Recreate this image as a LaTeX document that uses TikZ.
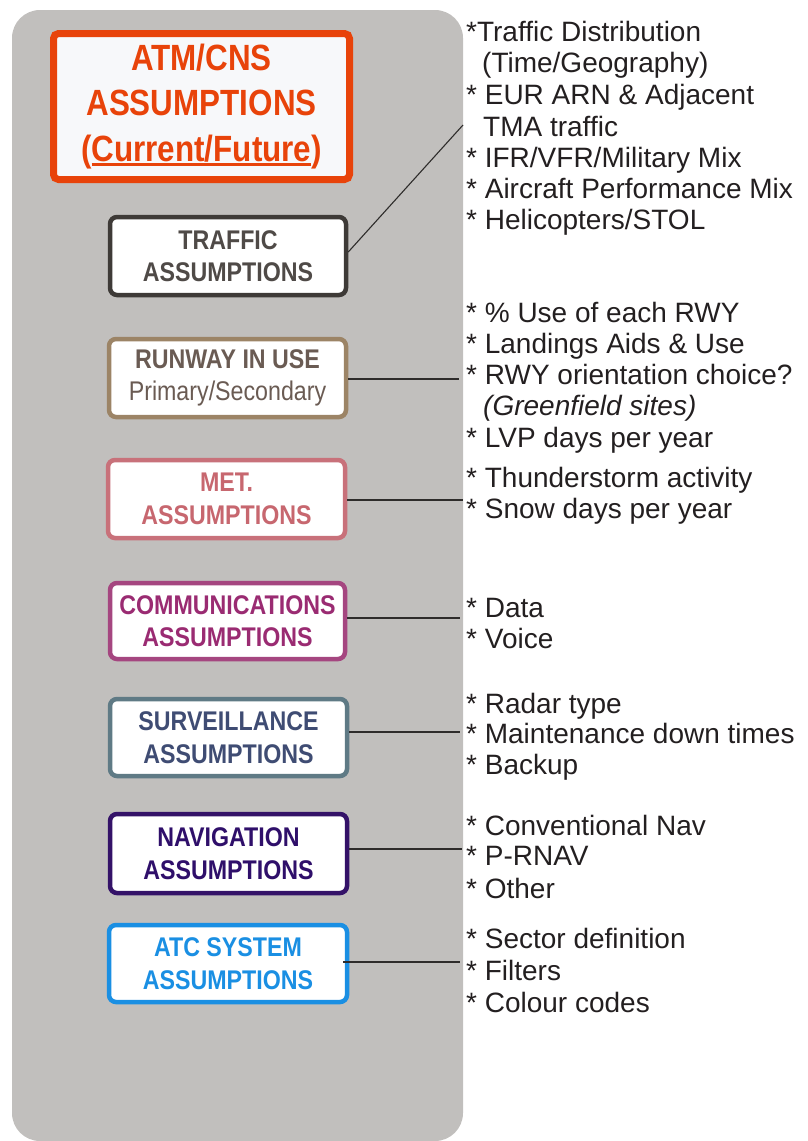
\documentclass[tikz,border=0pt]{standalone}
\usepackage{fontspec}
\setmainfont{Liberation Sans}
\newfontfamily\narrowsans[FakeStretch=0.86]{Liberation Sans}
\usetikzlibrary{calc}

\definecolor{panelgrey}{HTML}{C1BFBD}
\definecolor{ink}{HTML}{231F20}
\definecolor{linkgrey}{HTML}{2E2C2B}
\definecolor{atmorange}{HTML}{E8430A}
\definecolor{atmfill}{HTML}{F7F8FA}
\definecolor{trafficframe}{HTML}{3E3A37}
\definecolor{traffictext}{HTML}{4F4A47}
\definecolor{rwyframe}{HTML}{9C8466}
\definecolor{rwytext}{HTML}{6A5B53}
\definecolor{metframe}{HTML}{C8717A}
\definecolor{mettext}{HTML}{C7676F}
\definecolor{comframe}{HTML}{A54680}
\definecolor{comtext}{HTML}{9A2B72}
\definecolor{survframe}{HTML}{5F7A85}
\definecolor{survtext}{HTML}{3F4C73}
\definecolor{navframe}{HTML}{341268}
\definecolor{navtext}{HTML}{2F0F6A}
\definecolor{atcblue}{HTML}{1A8FE3}

% underline drawn just below the baseline
\newcommand\ulword[1]{\setbox0\hbox{#1}\rlap{\vrule width \wd0 height -1.5pt depth 4.5pt}\box0}

\begin{document}
\begin{tikzpicture}[x=1pt,y=-1pt,
  assumbox/.style={draw, line width=4.5pt, rounded corners=7pt, fill=white,
    inner sep=0pt, align=center,
    font=\narrowsans\bfseries\fontsize{27}{32.5}\selectfont},
  item/.style={anchor=base west, inner sep=0pt, text=ink,
    font=\fontsize{28}{34}\selectfont},
  link/.style={draw=linkgrey, line width=1.1pt}]

\useasboundingbox (0,0) rectangle (807,1141);

% grey backing panel
\fill[panelgrey, rounded corners=28pt] (12,10) rectangle (463,1141);

% title box
\node[draw=atmorange, line width=7pt, rounded corners=5pt, fill=atmfill,
      text=atmorange, inner sep=0pt, align=center,
      minimum width=296pt, minimum height=146pt,
      font=\narrowsans\bfseries\fontsize{36.5}{45.5}\selectfont]
  (atm) at (201.5,106.5) {ATM/CNS\\ASSUMPTIONS\\(\ulword{Current/Future})};

% assumption boxes
\node[assumbox, draw=trafficframe, text=traffictext, minimum width=236pt, minimum height=78pt]
  (traffic) at (228,256) {TRAFFIC\\ASSUMPTIONS};
\node[assumbox, draw=rwyframe, text=rwytext, minimum width=237pt, minimum height=78pt]
  (runway) at (227.5,378) {RUNWAY IN USE\\{\mdseries Primary/Secondary}};
\node[assumbox, draw=metframe, text=mettext, minimum width=237pt, minimum height=78pt]
  (met) at (226.5,499) {MET.\\ASSUMPTIONS};
\node[assumbox, draw=comframe, text=comtext, minimum width=235pt, minimum height=76pt]
  (comms) at (227.5,621) {COMMUNICATIONS\\ASSUMPTIONS};
\node[assumbox, draw=survframe, text=survtext, minimum width=237pt, minimum height=77pt]
  (surv) at (228.5,737.5) {SURVEILLANCE\\ASSUMPTIONS};
\node[assumbox, draw=navframe, text=navtext, minimum width=237pt, minimum height=79pt]
  (nav) at (228.5,853.5) {NAVIGATION\\ASSUMPTIONS};
\node[assumbox, draw=atcblue, text=atcblue, minimum width=238pt, minimum height=77pt]
  (atc) at (228,963.5) {ATC SYSTEM\\ASSUMPTIONS};

% traffic details
\node[item] (tr1) at (466,41)  {*Traffic Distribution};
\node[item] (tr2) at (482,72)  {(Time/Geography)};
\node[item] (tr3) at (466,104) {* EUR ARN \& Adjacent};
\node[item] (tr4) at (483,136) {TMA traffic};
\node[item] (tr5) at (466,167) {* IFR/VFR/Military Mix};
\node[item] (tr6) at (466,198) {* Aircraft Performance Mix};
\node[item] (tr7) at (466,229) {* Helicopters/STOL};

% runway details
\node[item] (rw1) at (466,322) {* \% Use of each RWY};
\node[item] (rw2) at (466,353) {* Landings Aids \& Use};
\node[item] (rw3) at (466,384) {* RWY orientation choice?};
\node[item] (rw4) at (483,415) {\itshape (Greenfield sites)};
\node[item] (rw5) at (466,447) {* LVP days per year};

% meteorology details
\node[item] (me1) at (466,487) {* Thunderstorm activity};
\node[item] (me2) at (466,518) {* Snow days per year};

% communications details
\node[item] (co1) at (466,617) {* Data};
\node[item] (co2) at (466,648) {* Voice};

% surveillance details
\node[item] (su1) at (466,713) {* Radar type};
\node[item] (su2) at (466,743) {* Maintenance down times};
\node[item] (su3) at (466,774) {* Backup};

% navigation details
\node[item] (na1) at (466,835) {* Conventional Nav};
\node[item] (na2) at (466,865) {* P-RNAV};
\node[item] (na3) at (466,898) {* Other};

% ATC system details
\node[item] (at1) at (466,948)  {* Sector definition};
\node[item] (at2) at (466,980)  {* Filters};
\node[item] (at3) at (466,1012) {* Colour codes};

% connector ends at the panel edge
\coordinate (trafficEnd) at (463,125);
\coordinate (runwayEnd)  at (459,379);
\coordinate (metEnd)     at (463,500);
\coordinate (commsEnd)   at (460,618);
\coordinate (survEnd)    at (460,732);
\coordinate (navEnd)     at (462,849);
\coordinate (atcEnd)     at (460,962);

\draw[link] ($(traffic.east)+(0,-4)$) -- (trafficEnd);
\draw[link] (runway.east |- runwayEnd) -- (runwayEnd);
\draw[link] (met.east |- metEnd) -- (metEnd);
\draw[link] (comms.east |- commsEnd) -- (commsEnd);
\draw[link] (surv.east |- survEnd) -- (survEnd);
\draw[link] (nav.east |- navEnd) -- (navEnd);
\draw[link] ($(atc.east |- atcEnd)+(-6,0)$) -- (atcEnd);

\end{tikzpicture}
\end{document}
